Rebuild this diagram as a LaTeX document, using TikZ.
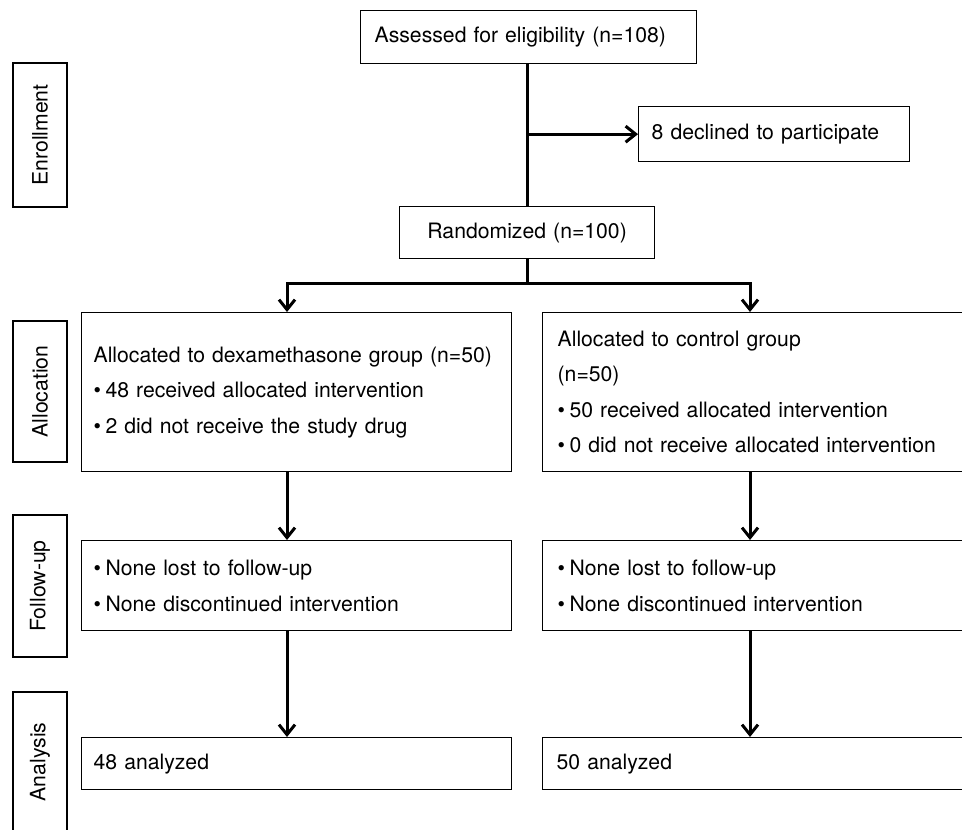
\documentclass[tikz,border=0pt]{standalone}
\usepackage{fontspec}
\setmainfont{TeX Gyre Heros}
\usetikzlibrary{arrows.meta}
\begin{document}
\begin{tikzpicture}[x=1pt,y=-1pt,
  txt/.style={font=\fontsize{21.2}{35.5}\selectfont},
  box/.style={draw, line width=1.3pt, txt, anchor=north west, inner ysep=0pt, align=left},
  lbl/.style={draw, line width=1.3pt, txt, rotate=90, minimum height=54pt, inner sep=0pt},
  conn/.style={line width=3pt},
  arr/.style={conn, -{Straight Barb[length=10pt,width=16pt]}}]
\useasboundingbox (0,0) rectangle (962,830);
\clip (0,0) rectangle (962,830);
\newcommand{\bul}{•\hspace{4.5pt}}
% section labels
\node[lbl, minimum width=144pt] (enr) at (40,135) {Enrollment};
\node[lbl, minimum width=141pt] (alloc) at (40,391.5) {Allocation};
\node[lbl, minimum width=142pt] (fol) at (40,586) {Follow-up};
\node[lbl, minimum width=140pt] (ana) at (40,762) {Analysis};
% boxes
\node[box, minimum height=53pt, text width=308pt, inner xsep=14pt] (assess) at (360,10) {Assessed for eligibility (n=108)};
\node[box, minimum height=55pt, text width=245pt, inner xsep=13pt] (decl) at (638,106) {8 declined to participate};
\node[box, minimum height=52pt, text width=227pt, inner xsep=14pt, align=center] (rand) at (399,206) {Randomized (n=100)};
\node[box, minimum height=159pt, text width=406pt, inner xsep=12pt] (la) at (81,312) {Allocated to dexamethasone group (n=50)\\ \bul 48 received allocated intervention\\ \bul 2 did not receive the study drug};
\node[box, minimum height=159pt, text width=400pt, inner xsep=15pt] (ra) at (542,312) {Allocated to control group\\ (n=50)\\ \bul 50 received allocated intervention\\ \bul 0 did not receive allocated intervention};
\node[box, minimum height=90pt, text width=406pt, inner xsep=12pt] (lf) at (81,540) {\bul None lost to follow-up\\ \bul None discontinued intervention};
\node[box, minimum height=90pt, text width=400pt, inner xsep=15pt] (rf) at (542,540) {\bul None lost to follow-up\\ \bul None discontinued intervention};
\node[box, minimum height=52pt, text width=406pt, inner xsep=12pt] (lan) at (81,737) {48 analyzed};
\node[box, minimum height=52pt, text width=400pt, inner xsep=14pt] (ran) at (542,737) {50 analyzed};
% connectors
\coordinate (mx) at (527,0);
\coordinate (lx) at (287,0);
\coordinate (rx) at (750,0);
\coordinate (split) at (527,283);
\draw[conn] (assess.south -| mx) -- (rand.north -| mx);
\draw[arr] (decl.west -| mx) -- (decl.west);
\draw[conn] (rand.south -| mx) -- (split);
\draw[arr] (split) -- (split -| lx) -- (la.north -| lx);
\draw[arr] (split) -- (split -| rx) -- (ra.north -| rx);
\draw[arr] (la.south -| lx) -- (lf.north -| lx);
\draw[arr] (ra.south -| rx) -- (rf.north -| rx);
\draw[arr] (lf.south -| lx) -- (lan.north -| lx);
\draw[arr] (rf.south -| rx) -- (ran.north -| rx);
\end{tikzpicture}
\end{document}
